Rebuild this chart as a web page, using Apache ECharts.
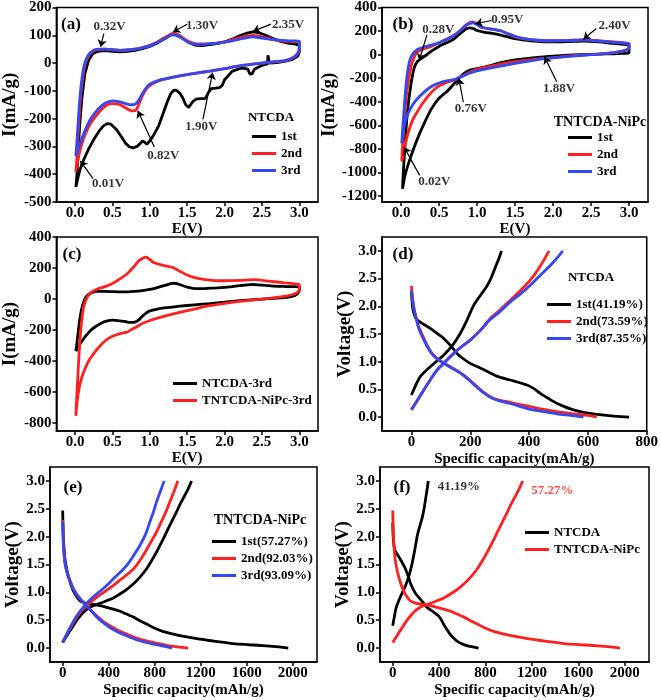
<!DOCTYPE html>
<html><head><meta charset="utf-8">
<script src="https://cdn.jsdelivr.net/npm/echarts@6/dist/echarts.min.js"></script>
<style>html,body{margin:0;padding:0;background:#fff}#c{width:661px;height:700px}</style>
</head><body><div id="c"></div>
<script>
// ---------- data ----------
// (a) NTCDA cyclic voltammetry: [E (V), I (mA/g)]
const cvA1 = [[0.01,-446],[0.02,-420],[0.04,-330],[0.06,-230],[0.09,-130],[0.13,-40],[0.18,10],[0.24,35],[0.3,42],[0.4,45],[0.5,42],[0.6,40],[0.7,42],[0.8,46],[0.9,52],[1.0,60],[1.1,72],[1.2,88],[1.28,102],[1.33,106],[1.4,98],[1.5,78],[1.6,65],[1.7,63],[1.8,66],[1.9,70],[2.0,76],[2.1,86],[2.2,98],[2.3,108],[2.38,112],[2.45,110],[2.55,100],[2.65,88],[2.75,78],[2.85,72],[2.95,68],[3.0,64],
  [3.0,40],[2.98,25],[2.9,12],[2.8,6],[2.7,2],[2.6,0],[2.585,-2],[2.58,28],[2.575,-3],[2.5,-8],[2.45,-15],[2.4,-22],[2.37,-38],[2.34,-40],[2.31,-22],[2.25,-18],[2.2,-20],[2.15,-25],[2.1,-30],[2.05,-45],[2.0,-60],[1.97,-80],[1.93,-88],[1.88,-90],[1.82,-92],[1.78,-108],[1.74,-128],[1.68,-128],[1.62,-130],[1.57,-140],[1.52,-160],[1.48,-150],[1.44,-125],[1.4,-108],[1.35,-97],[1.32,-98],[1.28,-110],[1.24,-135],[1.18,-180],[1.12,-225],[1.06,-255],[1.0,-280],[0.96,-292],[0.93,-285],[0.9,-280],[0.87,-290],[0.83,-300],[0.78,-305],[0.73,-302],[0.68,-290],[0.62,-265],[0.55,-238],[0.48,-220],[0.43,-218],[0.38,-226],[0.32,-245],[0.25,-275],[0.18,-310],[0.12,-345],[0.07,-380],[0.04,-410],[0.02,-435],[0.01,-446]];
const cvA2 = [[0.01,-392],[0.02,-360],[0.04,-260],[0.06,-170],[0.09,-80],[0.13,-10],[0.18,25],[0.24,42],[0.3,48],[0.4,50],[0.5,48],[0.6,46],[0.7,47],[0.8,50],[0.9,56],[1.0,64],[1.1,76],[1.2,92],[1.28,104],[1.32,108],[1.4,98],[1.5,80],[1.6,70],[1.7,68],[1.8,70],[1.9,72],[2.0,76],[2.1,84],[2.2,92],[2.3,98],[2.38,100],[2.45,98],[2.55,92],[2.65,84],[2.75,80],[2.85,78],[2.95,78],[3.0,76],
  [3.0,50],[2.97,30],[2.9,16],[2.8,8],[2.6,3],[2.4,-3],[2.2,-10],[2.0,-20],[1.8,-29],[1.6,-37],[1.4,-46],[1.2,-58],[1.1,-66],[1.0,-80],[0.95,-95],[0.9,-118],[0.85,-150],[0.82,-168],[0.77,-172],[0.7,-165],[0.6,-150],[0.5,-146],[0.42,-152],[0.35,-168],[0.28,-190],[0.2,-220],[0.13,-260],[0.08,-300],[0.04,-345],[0.02,-375],[0.01,-392]];
const cvA3 = [[0.01,-335],[0.02,-300],[0.04,-220],[0.06,-140],[0.09,-60],[0.13,0],[0.18,30],[0.24,45],[0.3,50],[0.4,50],[0.5,48],[0.6,46],[0.7,47],[0.8,50],[0.9,55],[1.0,62],[1.1,74],[1.2,88],[1.28,100],[1.32,102],[1.4,94],[1.5,77],[1.6,68],[1.7,68],[1.8,70],[1.9,72],[2.0,75],[2.1,80],[2.2,86],[2.3,92],[2.38,94],[2.45,92],[2.55,88],[2.65,84],[2.75,82],[2.85,80],[2.95,80],[3.0,78],
  [3.0,55],[2.97,32],[2.9,17],[2.8,9],[2.6,3],[2.4,-3],[2.2,-10],[2.0,-20],[1.8,-29],[1.6,-37],[1.4,-46],[1.2,-57],[1.1,-64],[1.0,-76],[0.95,-90],[0.9,-110],[0.85,-135],[0.8,-148],[0.75,-150],[0.7,-148],[0.6,-140],[0.5,-136],[0.42,-142],[0.35,-155],[0.28,-175],[0.2,-205],[0.13,-245],[0.08,-280],[0.04,-310],[0.02,-328],[0.01,-335]];

// (b) TNTCDA-NiPc cyclic voltammetry
const cvB1 = [[0.02,-1138],[0.03,-1000],[0.05,-800],[0.07,-600],[0.09,-450],[0.12,-300],[0.15,-180],[0.18,-100],[0.22,-55],[0.27,-30],[0.33,-5],[0.4,30],[0.5,70],[0.6,100],[0.7,135],[0.78,180],[0.85,215],[0.9,228],[0.95,222],[1.0,205],[1.1,190],[1.2,180],[1.3,168],[1.4,152],[1.5,135],[1.6,125],[1.7,118],[1.8,112],[1.9,108],[2.0,108],[2.2,110],[2.4,115],[2.6,108],[2.8,95],[2.95,88],[3.0,80],
  [3.0,15],[2.9,10],[2.7,6],[2.5,3],[2.2,-5],[2.0,-12],[1.88,-18],[1.7,-30],[1.5,-45],[1.3,-70],[1.2,-88],[1.1,-105],[1.0,-118],[0.9,-132],[0.85,-150],[0.8,-175],[0.76,-205],[0.7,-245],[0.6,-315],[0.5,-370],[0.4,-460],[0.3,-590],[0.2,-740],[0.1,-920],[0.05,-1030],[0.02,-1138]];
const cvB2 = [[0.01,-905],[0.02,-780],[0.04,-600],[0.06,-430],[0.08,-300],[0.11,-180],[0.14,-80],[0.18,-10],[0.22,25],[0.3,50],[0.4,70],[0.5,100],[0.6,130],[0.7,165],[0.78,205],[0.85,248],[0.9,270],[0.95,278],[1.0,258],[1.05,235],[1.15,220],[1.3,205],[1.4,180],[1.5,150],[1.6,135],[1.7,128],[1.8,122],[1.9,118],[2.0,118],[2.2,120],[2.4,125],[2.6,118],[2.8,108],[2.95,98],[3.0,92],
  [3.0,60],[2.97,40],[2.9,28],[2.8,18],[2.6,5],[2.4,-2],[2.2,-12],[2.0,-25],[1.8,-35],[1.5,-60],[1.2,-95],[1.0,-125],[0.9,-150],[0.8,-185],[0.76,-200],[0.7,-215],[0.6,-235],[0.5,-265],[0.4,-320],[0.3,-400],[0.2,-500],[0.15,-560],[0.1,-650],[0.06,-750],[0.03,-840],[0.01,-905]];
const cvB3 = [[0.01,-752],[0.02,-650],[0.04,-470],[0.06,-300],[0.08,-180],[0.11,-60],[0.14,-10],[0.18,25],[0.22,45],[0.3,65],[0.4,80],[0.5,100],[0.6,130],[0.7,165],[0.78,205],[0.85,245],[0.9,262],[0.95,270],[1.0,255],[1.05,235],[1.15,220],[1.3,205],[1.4,180],[1.5,155],[1.6,138],[1.7,128],[1.8,122],[1.9,118],[2.0,118],[2.2,120],[2.4,125],[2.6,115],[2.8,105],[2.95,98],[3.0,92],
  [3.0,62],[2.97,42],[2.9,28],[2.8,17],[2.6,5],[2.4,-5],[2.2,-15],[2.0,-28],[1.8,-42],[1.5,-75],[1.2,-110],[1.0,-138],[0.9,-158],[0.8,-185],[0.76,-195],[0.7,-212],[0.6,-222],[0.5,-240],[0.4,-270],[0.3,-320],[0.2,-385],[0.15,-430],[0.1,-490],[0.06,-560],[0.03,-650],[0.01,-752]];

// (d) NTCDA galvanostatic curves: [capacity (mAh/g), voltage (V)]
const gdD1dis = [[0,2.25],[5,1.95],[12,1.82],[20,1.75],[40,1.68],[64,1.6],[90,1.5],[110,1.42],[135,1.28],[155,1.15],[180,1.04],[200,0.97],[245,0.86],[290,0.74],[336,0.67],[393,0.58],[415,0.52],[438,0.43],[465,0.34],[494,0.25],[520,0.19],[551,0.13],[590,0.08],[630,0.05],[690,0.02],[740,0.0]];
const gdD1chg = [[0,0.4],[10,0.52],[30,0.73],[64,0.91],[110,1.12],[140,1.3],[165,1.5],[189,1.75],[212,2.02],[235,2.2],[255,2.35],[270,2.5],[285,2.7],[300,2.9],[306,3.0]];
const gdD2dis = [[0,2.37],[3,2.2],[8,1.99],[16,1.8],[25,1.63],[40,1.45],[53,1.3],[70,1.15],[87,1.06],[110,0.98],[132,0.91],[155,0.84],[178,0.76],[200,0.66],[223,0.55],[245,0.45],[268,0.37],[295,0.31],[325,0.28],[365,0.23],[404,0.19],[450,0.14],[494,0.1],[550,0.06],[600,0.03],[630,0.0]];
const gdD2chg = [[0,0.13],[20,0.3],[42,0.49],[65,0.68],[87,0.85],[115,1.0],[144,1.15],[170,1.27],[200,1.39],[235,1.57],[268,1.78],[300,1.93],[336,2.11],[370,2.28],[404,2.47],[435,2.7],[468,3.0]];
const gdD3dis = [[0,2.29],[3,2.15],[8,1.96],[16,1.78],[25,1.6],[40,1.42],[53,1.28],[70,1.14],[87,1.05],[110,0.97],[132,0.9],[155,0.83],[178,0.75],[200,0.65],[223,0.54],[245,0.44],[268,0.36],[295,0.3],[325,0.26],[365,0.2],[404,0.14],[450,0.1],[494,0.06],[540,0.03],[585,0.0]];
const gdD3chg = [[0,0.14],[20,0.3],[42,0.49],[65,0.68],[87,0.85],[115,1.0],[144,1.15],[170,1.27],[200,1.39],[235,1.57],[268,1.76],[300,1.9],[336,2.08],[370,2.22],[404,2.38],[440,2.57],[480,2.78],[515,3.0]];

// (e) TNTCDA-NiPc galvanostatic curves
const gdE1dis = [[0,2.47],[3,2.2],[6,2.0],[12,1.8],[20,1.6],[35,1.42],[49,1.3],[70,1.15],[92,1.03],[120,0.93],[150,0.85],[190,0.81],[237,0.79],[324,0.76],[400,0.72],[439,0.7],[500,0.66],[555,0.61],[610,0.56],[671,0.49],[730,0.43],[786,0.37],[870,0.3],[960,0.25],[1080,0.2],[1191,0.16],[1330,0.12],[1480,0.08],[1620,0.06],[1769,0.04],[1880,0.02],[1960,0.0]];
const gdE1chg = [[0,0.1],[30,0.2],[60,0.3],[92,0.4],[130,0.52],[179,0.64],[220,0.71],[266,0.76],[320,0.8],[382,0.85],[440,0.9],[497,0.97],[555,1.05],[613,1.15],[670,1.27],[728,1.42],[770,1.56],[815,1.72],[860,1.9],[902,2.08],[945,2.26],[988,2.44],[1025,2.6],[1061,2.74],[1095,2.88],[1120,3.0]];
const gdE2dis = [[0,2.3],[3,2.1],[6,1.9],[12,1.7],[20,1.54],[40,1.35],[64,1.21],[90,1.08],[121,0.97],[160,0.87],[208,0.76],[250,0.67],[295,0.58],[350,0.48],[410,0.4],[480,0.32],[555,0.25],[640,0.18],[728,0.13],[810,0.09],[902,0.05],[1000,0.02],[1090,0.0]];
const gdE2chg = [[0,0.1],[30,0.22],[55,0.32],[78,0.4],[120,0.55],[179,0.7],[230,0.8],[295,0.91],[370,1.02],[439,1.12],[510,1.24],[584,1.36],[640,1.48],[699,1.66],[760,1.88],[815,2.08],[860,2.28],[902,2.47],[940,2.67],[975,2.85],[1000,3.0]];
const gdE3dis = [[0,2.27],[3,2.07],[6,1.88],[12,1.68],[20,1.52],[40,1.33],[64,1.2],[90,1.07],[121,0.96],[160,0.86],[208,0.75],[250,0.66],[295,0.56],[350,0.46],[410,0.37],[480,0.29],[555,0.22],[640,0.15],[728,0.1],[810,0.06],[890,0.03],[950,0.0]];
const gdE3chg = [[0,0.1],[30,0.23],[55,0.33],[78,0.42],[120,0.57],[179,0.73],[230,0.85],[295,0.97],[370,1.1],[439,1.24],[500,1.36],[555,1.48],[610,1.64],[671,1.84],[720,2.04],[757,2.26],[790,2.45],[815,2.62],[850,2.82],[882,3.0]];

// series names
const cycleNames = ['1st','2nd','3rd'];
const cNames = ['NTCDA-3rd','TNTCDA-NiPc-3rd'];
const dNames = ['1st(41.19%)','2nd(73.59%)','3rd(87.35%)'];
const eNames = ['1st(57.27%)','2nd(92.03%)','3rd(93.09%)'];
const fNames = ['NTCDA','TNTCDA-NiPc'];

// tick labels
const ticksE = [0,0.5,1,1.5,2,2.5,3];
const ticksIA = [-500,-400,-300,-200,-100,0,100,200];
const ticksIB = [-1200,-1000,-800,-600,-400,-200,0,200,400];
const ticksIC = [-800,-600,-400,-200,0,200,400];
const ticksV = [0,0.5,1,1.5,2,2.5,3];
const ticksCapD = [0,200,400,600,800];
const ticksCapE = [0,400,800,1200,1600,2000];

// peak annotations: text position (tx,ty), arrow from (ax,ay) to (bx,by), data units
const annA = [
  {t:'0.32V', tx:0.46, ty:130, ax:0.385, ay:106, bx:0.34, by:58},
  {t:'1.30V', tx:1.70, ty:136, ax:1.50, ay:140, bx:1.31, by:112},
  {t:'2.35V', tx:2.85, ty:140, ax:2.62, ay:140, bx:2.38, by:114},
  {t:'1.90V', tx:1.69, ty:-230, ax:1.71, ay:-203, bx:1.84, by:-34},
  {t:'0.82V', tx:1.18, ty:-332, ax:1.06, ay:-302, bx:0.84, by:-172},
  {t:'0.01V', tx:0.44, ty:-433, ax:0.24, ay:-416, bx:0.07, by:-352}
];
const annB = [
  {t:'0.28V', tx:0.49, ty:216, ax:0.34, ay:165, bx:0.24, by:-50},
  {t:'0.95V', tx:1.40, ty:301, ax:1.19, ay:290, bx:0.98, by:262},
  {t:'2.40V', tx:2.81, ty:250, ax:2.57, ay:222, bx:2.40, by:130},
  {t:'1.88V', tx:2.08, ty:-285, ax:2.05, ay:-232, bx:1.89, by:-20},
  {t:'0.76V', tx:0.92, ty:-458, ax:0.82, ay:-402, bx:0.76, by:-200},
  {t:'0.02V', tx:0.44, ty:-1081, ax:0.245, ay:-1024, bx:0.04, by:-784}
];
const annF = [
  {t:'41.19%', tx:570, ty:2.89, c:'#000000'},
  {t:'57.27%', tx:1377, ty:2.83, c:'#ff1f1f'}
];

// ---------- styling / layout ----------
const FONT = '"Liberation Serif","Times New Roman",serif';
const BLACK = '#000000', RED = '#ff1f1f', BLUE = '#3448f2';
const COLORS3 = [BLACK, RED, BLUE];

const grids = [
  {left:52, top:7, width:266, height:195},
  {left:382, top:7, width:266, height:195},
  {left:52, top:237, width:266, height:194},
  {left:382, top:237, width:266, height:194},
  {left:50, top:467, width:267, height:195},
  {left:380, top:467, width:269, height:195}
].map(g => Object.assign({show:true, borderColor:'#000', borderWidth:1.5, backgroundColor:'transparent'}, g));

function axis(gi, min, max, ticks, dec, name, gap, nameSize, labelMargin) {
  return {
    type:'value', gridIndex:gi, min, max, name, nameLocation:'middle', nameGap:gap,
    nameTextStyle:{fontFamily:FONT, fontWeight:'bold', fontSize:nameSize, color:'#000'},
    axisLine:{show:true, onZero:false, lineStyle:{color:'#000', width:1.5}},
    axisTick:{show:true, inside:false, length:4, customValues:ticks, lineStyle:{color:'#000', width:1.5}},
    axisLabel:{show:true, customValues:ticks, margin:labelMargin,
      formatter:(v)=> dec ? Number(v).toFixed(dec) : String(v),
      fontFamily:FONT, fontWeight:'bold', fontSize:15, color:'#000'},
    splitLine:{show:false}
  };
}

const xAxes = [
  axis(0, -0.25, 3.25, ticksE, 1, 'E(V)', 20, 15, 4),
  axis(1, -0.25, 3.25, ticksE, 1, 'E(V)', 20, 15, 4),
  axis(2, -0.25, 3.25, ticksE, 1, 'E(V)', 20, 15, 4),
  axis(3, -100, 800, ticksCapD, 0, 'Specific capacity(mAh/g)', 21, 15, 4),
  axis(4, -110, 2210, ticksCapE, 0, 'Specific capacity(mAh/g)', 21, 15, 4),
  axis(5, -110, 2210, ticksCapE, 0, 'Specific capacity(mAh/g)', 21, 15, 4)
];
const yAxes = [
  axis(0, -500, 200, ticksIA, 0, 'I(mA/g)', 35, 19, 5),
  axis(1, -1250, 400, ticksIB, 0, 'I(mA/g)', 36, 19, 5),
  axis(2, -850, 400, ticksIC, 0, 'I(mA/g)', 35, 19, 5),
  axis(3, -0.25, 3.25, ticksV, 1, 'Voltage(V)', 26, 19, 5),
  axis(4, -0.25, 3.25, ticksV, 1, 'Voltage(V)', 25, 19, 5),
  axis(5, -0.25, 3.25, ticksV, 1, 'Voltage(V)', 25, 19, 5)
];

function line(name, data, color, gi, smooth) {
  return {type:'line', name, data, xAxisIndex:gi, yAxisIndex:gi, symbol:'none', showSymbol:false,
    color, itemStyle:{color}, lineStyle:{width:2.8, color}, smooth: smooth, animation:false, silent:true};
}
function annText(list, gi) {
  return {type:'scatter', name:'ann'+gi, xAxisIndex:gi, yAxisIndex:gi, symbolSize:1, silent:true, animation:false,
    itemStyle:{color:'rgba(0,0,0,0)'},
    data:list.map(a=>({value:[a.tx,a.ty], name:a.t, label:{color:a.c||'#000'}})),
    label:{show:true, position:'inside', formatter:'{b}', fontFamily:FONT, fontWeight:'bold', fontSize:13, color:'#000'},
    z:6};
}
function annArrows(list, gi) {
  return {type:'lines', coordinateSystem:'cartesian2d', xAxisIndex:gi, yAxisIndex:gi, silent:true, animation:false,
    symbol:['none','arrow'], symbolSize:7,
    lineStyle:{color:'#000', width:1.2, opacity:1, curveness:0},
    data:list.map(a=>({coords:[[a.ax,a.ay],[a.bx,a.by]]})), z:6};
}

const series = [];
[cvA1, cvA2, cvA3].forEach((d,i)=>series.push(line(cycleNames[i], d, COLORS3[i], 0, i===0 ? false : 0.2)));
[cvB1, cvB2, cvB3].forEach((d,i)=>series.push(line(cycleNames[i], d, COLORS3[i], 1, 0.2)));
series.push(line(cNames[0], cvA3, BLACK, 2, 0.2));
series.push(line(cNames[1], cvB3, RED, 2, 0.2));
[[gdD1dis,gdD1chg],[gdD2dis,gdD2chg],[gdD3dis,gdD3chg]].forEach((p,i)=>{
  series.push(line(dNames[i], p[0], COLORS3[i], 3, 0.3));
  series.push(line(dNames[i], p[1], COLORS3[i], 3, 0.3));
});
[[gdE1dis,gdE1chg],[gdE2dis,gdE2chg],[gdE3dis,gdE3chg]].forEach((p,i)=>{
  series.push(line(eNames[i], p[0], COLORS3[i], 4, 0.3));
  series.push(line(eNames[i], p[1], COLORS3[i], 4, 0.3));
});
series.push(line(fNames[0], gdD1dis, BLACK, 5, 0.3));
series.push(line(fNames[0], gdD1chg, BLACK, 5, 0.3));
series.push(line(fNames[1], gdE1dis, RED, 5, 0.3));
series.push(line(fNames[1], gdE1chg, RED, 5, 0.3));
series.push(annText(annA, 0), annArrows(annA, 0));
series.push(annText(annB, 1), annArrows(annB, 1));
series.push(annText(annF, 5));

function legend(names, left, top) {
  return {data:names, left, top, orient:'vertical', icon:'rect', itemWidth:24, itemHeight:3, itemGap:4,
    selectedMode:false, textStyle:{fontFamily:FONT, fontWeight:'bold', fontSize:13, color:'#000'}, padding:0};
}
const legends = [
  legend(cycleNames, 252, 130),
  legend(cycleNames, 568, 131),
  legend(cNames, 173, 377),
  legend(dNames, 547, 298),
  legend(eNames, 212, 535),
  legend(fNames, 525, 526)
];

function txt(s, x, y, size, color) {
  return {type:'text', x, y, silent:true, z:10,
    style:{text:s, font:'bold '+size+'px '+FONT, fill:color||'#000', align:'center', verticalAlign:'middle'}};
}
const graphics = [
  txt('(a)', 71, 25, 17), txt('(b)', 403, 25, 17), txt('(c)', 72, 255, 17),
  txt('(d)', 403, 255, 17), txt('(e)', 73, 488, 17), txt('(f)', 402, 488, 17),
  txt('NTCDA', 271, 118, 13), txt('TNTCDA-NiPc', 600, 122, 14),
  txt('NTCDA', 591, 278, 13), txt('TNTCDA-NiPc', 260, 520, 14)
];

const chart = echarts.init(document.getElementById('c'), null, {renderer:'canvas', width:661, height:700});
chart.setOption({
  backgroundColor:'#ffffff', animation:false,
  grid:grids, xAxis:xAxes, yAxis:yAxes, legend:legends, series, graphic:graphics
});
</script></body></html>
